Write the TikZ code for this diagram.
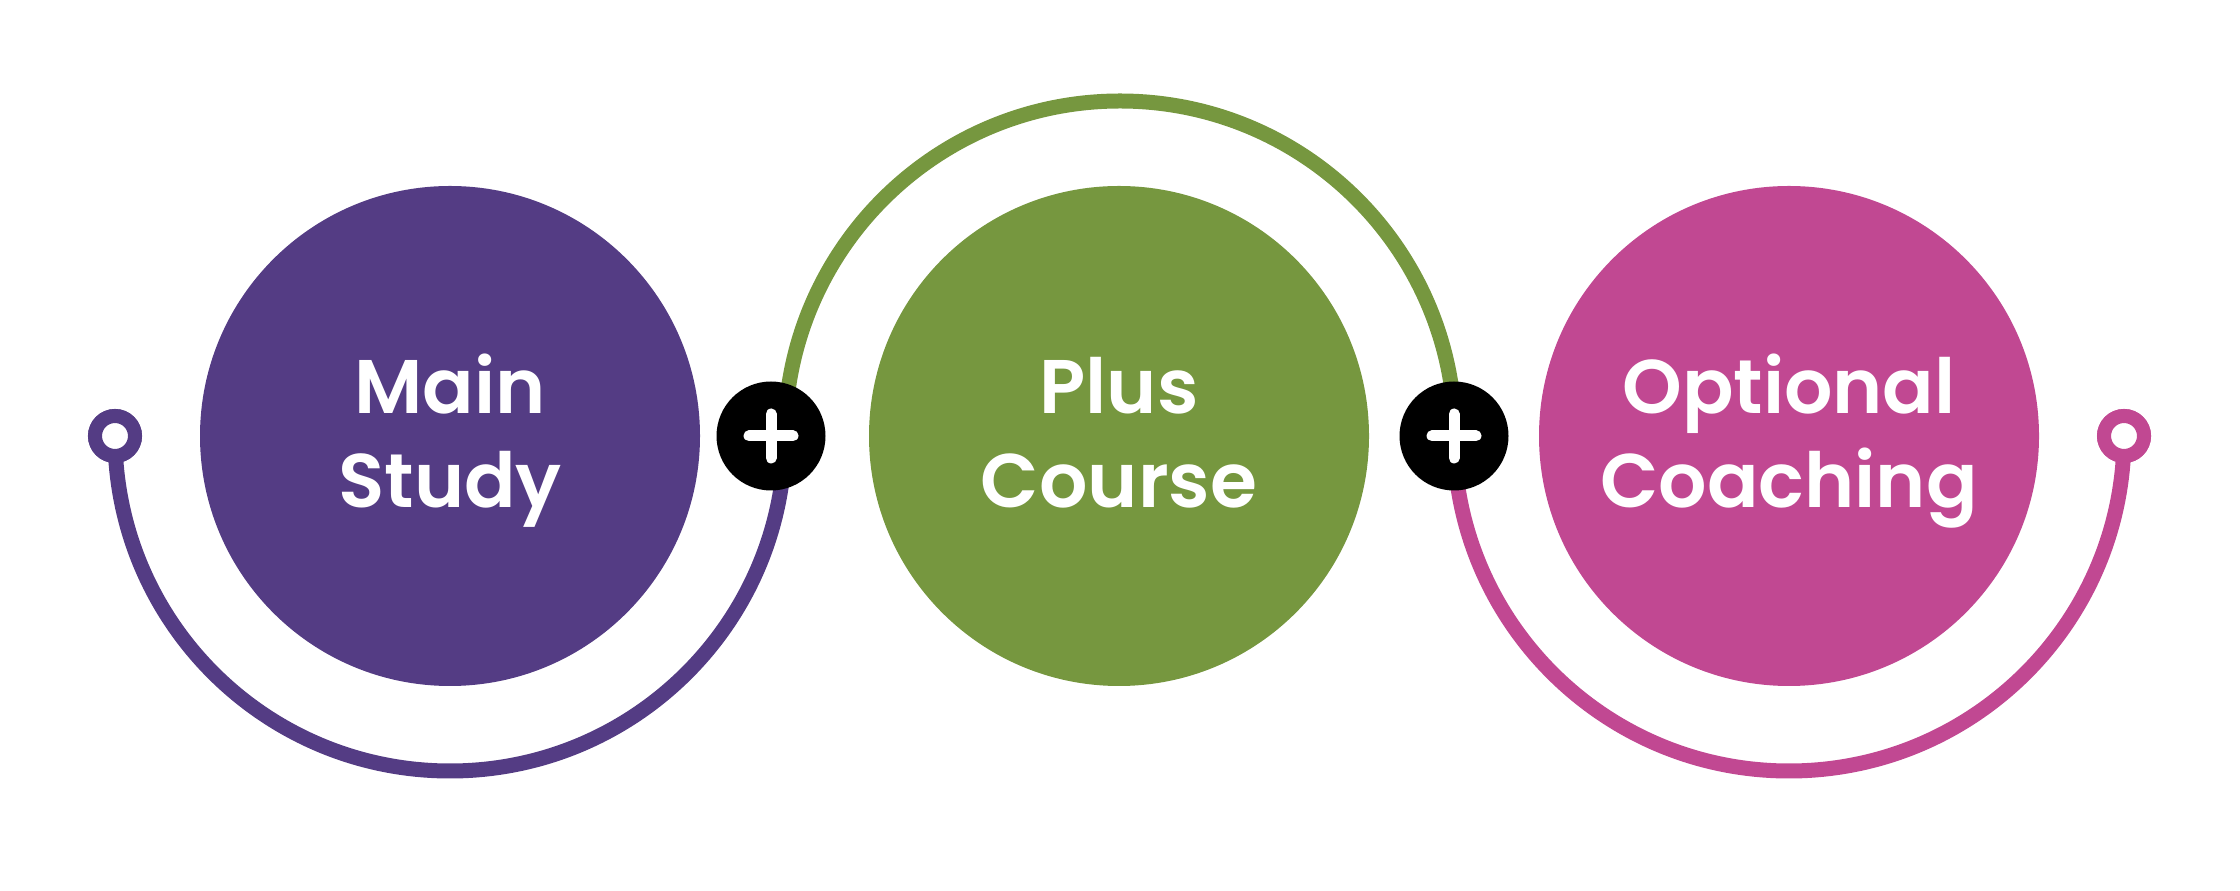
\documentclass[tikz,border=0pt]{standalone}
\usepackage{fontspec}
\setmainfont{Poppins}[BoldFont={* SemiBold}]
\definecolor{purpleC}{HTML}{543C84}
\definecolor{greenC}{HTML}{76973F}
\definecolor{magentaC}{HTML}{C14892}
\newcommand{\twolines}[2]{\raisebox{-6pt}[\height][\depth]{\begin{tabular}{@{}c@{}}#1\\#2\end{tabular}}}
\begin{document}
\begin{tikzpicture}[x=1pt,y=1pt,
  bigc/.style={circle, minimum size=500pt, inner sep=0pt, text=white,
    font=\fontsize{76}{94}\selectfont\bfseries},
  plusc/.style={circle, fill=black, minimum size=109pt, inner sep=0pt,
    path picture={\draw[white, line width=11pt, line cap=round]
      ([xshift=-22pt]path picture bounding box.center) -- ([xshift=22pt]path picture bounding box.center)
      ([yshift=-22pt]path picture bounding box.center) -- ([yshift=22pt]path picture bounding box.center);}},
  ringc/.style={circle, draw=#1, fill=white, line width=14pt, minimum size=40pt, inner sep=0pt},
  arcline/.style={draw=#1, line width=15pt}
]
\useasboundingbox (0,0) rectangle (2240,891);
\node[ringc=purpleC] (r1) at (115,455) {};
\node[ringc=magentaC] (r2) at (2124,455) {};
\coordinate (j1) at (785,455);
\coordinate (j2) at (1454,455);
\path[arcline=purpleC] (r1.center) arc[start angle=180, end angle=360, radius=335pt];
\path[arcline=greenC] (j1) arc[start angle=180, end angle=0, radius=335pt];
\path[arcline=magentaC] (j2) arc[start angle=180, end angle=360, radius=335pt];
\node[ringc=purpleC] at (r1) {};
\node[ringc=magentaC] at (r2) {};
\node[bigc, fill=purpleC] (main) at (450,455) {\twolines{Main}{Study}};
\node[bigc, fill=greenC] (plus) at (1119,455) {\twolines{Plus}{Course}};
\node[bigc, fill=magentaC] (opt) at (1789,455) {\twolines{Optional}{Coaching}};
\node[plusc] (p1) at (771,455) {};
\node[plusc] (p2) at (1454,455) {};
\end{tikzpicture}
\end{document}
